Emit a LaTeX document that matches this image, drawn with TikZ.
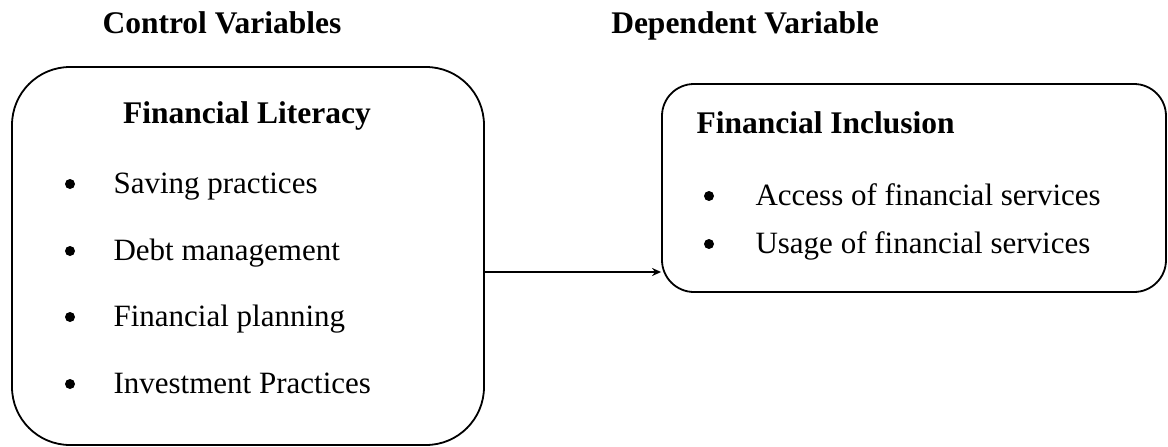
\documentclass[tikz,border=0pt]{standalone}
\usepackage{fontspec}
\setmainfont{Liberation Serif}
\usetikzlibrary{arrows.meta}
\begin{document}
\begin{tikzpicture}[x=1pt,y=-1pt,
  box/.style={draw,line width=1.8pt,rounded corners=#1,inner sep=0pt},
  head/.style={font=\fontsize{31.5}{36}\selectfont\bfseries,anchor=base},
  item/.style={font=\fontsize{31}{36}\selectfont,anchor=base west},
  dot/.style={circle,fill,inner sep=0pt,minimum size=10pt},
  conn/.style={line width=1.8pt,-{Stealth[length=9pt,width=8pt]}}]
\useasboundingbox (0,0) rectangle (1168,447);
\node[head] (hc) at (222,33) {Control Variables};
\node[head] (hd) at (745,33) {Dependent Variable};
\node[box=58pt,minimum width=472pt,minimum height=378pt] (L) at (248,256) {};
\node[box=32pt,minimum width=504pt,minimum height=208pt] (R) at (914,188) {};
\node[head] (lt) at (247,123) {Financial Literacy};
\node[head,anchor=base west] (rt) at (693,133) {Financial Inclusion};
\foreach \y/\t [count=\i] in {193/Saving practices,260/Debt management,326/Financial planning,393/Investment Practices}{
  \node[dot] (ld\i) at (70,\y-9) {};
  \node[item] (li\i) at (110,\y) {\t};
}
\foreach \y/\t [count=\i] in {205/Access of financial services,253/Usage of financial services}{
  \node[dot] (rd\i) at (709,\y-9) {};
  \node[item] (ri\i) at (752,\y) {\t};
}
\draw[conn] (L.east |- 0,272) -- (R.west |- 0,272);
\end{tikzpicture}
\end{document}
